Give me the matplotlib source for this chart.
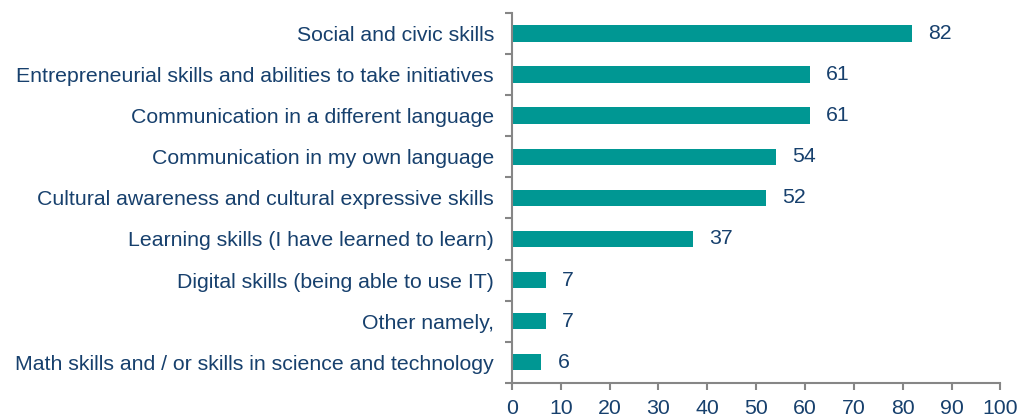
import matplotlib
matplotlib.use("Agg")
import matplotlib.pyplot as plt
import numpy as np

categories = [
    "Social and civic skills",
    "Entrepreneurial skills and abilities to take initiatives",
    "Communication in a different language",
    "Communication in my own language",
    "Cultural awareness and cultural expressive skills",
    "Learning skills (I have learned to learn)",
    "Digital skills (being able to use IT)",
    "Other namely,",
    "Math skills and / or skills in science and technology",
]
values = [82, 61, 61, 54, 52, 37, 7, 7, 6]
xticks = list(range(0, 101, 10))

plt.rcParams['font.family'] = ['Liberation Sans', 'DejaVu Sans']
txt = '#17406D'
bar_c = '#009793'
spine_c = '#868686'
fs = 15.3

fig = plt.figure(figsize=(10.26, 4.17), dpi=100)
ax = fig.add_axes([0.499, 0.082, 0.476, 0.887])
n = len(categories)
y = np.arange(n)
ax.barh(y, values, height=0.4, color=bar_c)
ax.set_ylim(n - 0.5, -0.5)
ax.set_xlim(0, 100)
ax.set_xticks(xticks)
ax.set_xticklabels([str(t) for t in xticks], fontsize=fs, color=txt)
ax.set_yticks(y)
ax.set_yticklabels(categories, fontsize=fs, color=txt)
ax.tick_params(axis='y', length=0, pad=13)
ax.set_yticks(np.arange(n + 1) - 0.5, minor=True)
ax.tick_params(axis='y', which='minor', length=5, width=1.5, color=spine_c, direction='out')
ax.tick_params(axis='x', length=5, width=1.5, color=spine_c, direction='out', pad=7)
for s in ['top', 'right']:
    ax.spines[s].set_visible(False)
for s in ['left', 'bottom']:
    ax.spines[s].set_color(spine_c)
    ax.spines[s].set_linewidth(1.5)
for yi, v in zip(y, values):
    ax.text(v + 3.3, yi, str(v), va='center', ha='left', fontsize=fs, color=txt)
fig.savefig('out.png', dpi=100)
